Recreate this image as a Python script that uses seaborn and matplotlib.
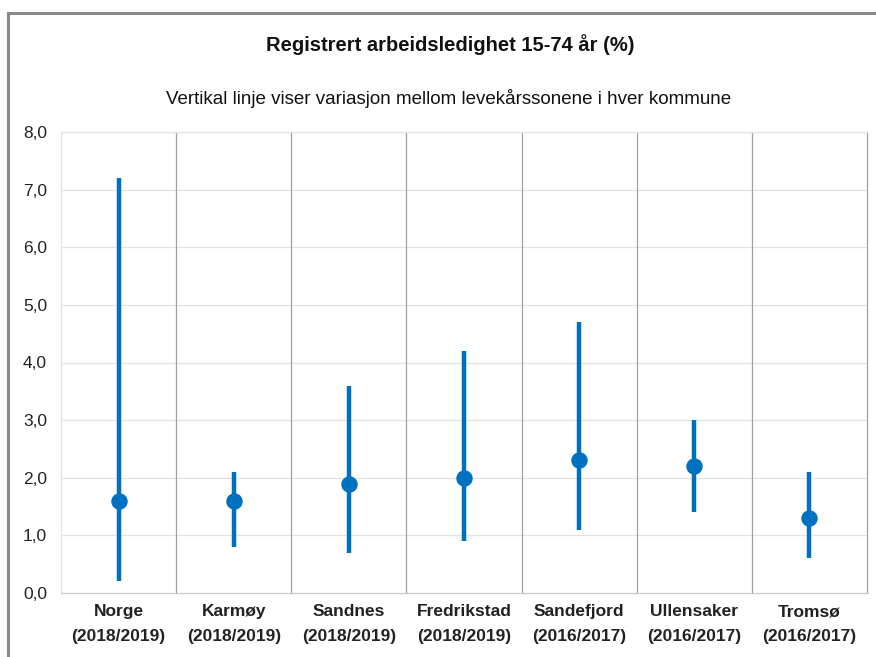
import matplotlib
matplotlib.use("Agg")
import matplotlib.pyplot as plt
import seaborn as sns
import pandas as pd
import numpy as np
from matplotlib.patches import Rectangle

categories = ["Norge\n(2018/2019)", "Karmøy\n(2018/2019)", "Sandnes\n(2018/2019)",
              "Fredrikstad\n(2018/2019)", "Sandefjord\n(2016/2017)",
              "Ullensaker\n(2016/2017)", "Tromsø\n(2016/2017)"]
low = [0.2, 0.8, 0.7, 0.9, 1.1, 1.4, 0.6]
high = [7.2, 2.1, 3.6, 4.2, 4.7, 3.0, 2.1]
value = [1.6, 1.6, 1.9, 2.0, 2.3, 2.2, 1.3]
yticks = [0, 1, 2, 3, 4, 5, 6, 7, 8]

sns.set_theme(style="white")
plt.rcParams['font.family'] = ['Liberation Sans', 'DejaVu Sans']

df = pd.DataFrame({"kat": categories, "low": low, "high": high, "verdi": value})
color = "#0070C0"

fig = plt.figure(figsize=(8.76, 6.57), dpi=100)
ax = fig.add_axes([61/876, 1-593/657, (867-61)/876, (593-132)/657])

x = np.arange(len(categories))
ax.vlines(x, df["low"], df["high"], color=color, linewidth=3.2, zorder=3)
sns.scatterplot(data=df, x=x, y="verdi", color=color, s=140, edgecolor=color,
                linewidth=0, zorder=4, ax=ax, legend=False)

ax.set_xlim(-0.5, len(categories) - 0.5)
ax.set_ylim(0, 8)
ax.set_yticks(yticks)
ax.set_yticklabels([f"{v:.1f}".replace(".", ",") for v in yticks], fontsize=12.5, color="#222222")
ax.set_xticks(x)
ax.set_xticklabels(categories, fontsize=12.5, fontweight="bold", color="#222222")
ax.tick_params(axis="x", pad=8, length=0)
ax.tick_params(axis="y", pad=10, length=0)
for t in ax.get_xticklabels():
    t.set_linespacing(1.8)
ax.set_xlabel("")
ax.set_ylabel("")

# horizontal grid
for v in yticks[1:]:
    ax.axhline(v, color="#e3e3e3", linewidth=0.9, zorder=1)
# vertical separators
for b in np.arange(0.5, len(categories) - 0.5, 1):
    ax.axvline(b, color="#a0a0a0", linewidth=0.9, zorder=1)

for s in ["top", "right", "left"]:
    ax.spines[s].set_visible(True)
    ax.spines[s].set_color("#a0a0a0")
    ax.spines[s].set_linewidth(0.9)
ax.spines["top"].set_color("#e3e3e3")
ax.spines["left"].set_color("#e3e3e3")
ax.spines["bottom"].set_color("#c8c8c8")
ax.spines["bottom"].set_linewidth(0.9)

fig.text(450/876, 1-45/657, "Registrert arbeidsledighet 15-74 år (%)", ha="center", va="center",
         fontsize=14.5, fontweight="bold", color="#111111")
fig.text(449/876, 1-98/657, "Vertikal linje viser variasjon mellom levekårssonene i hver kommune",
         ha="center", va="center", fontsize=13.5, color="#111111")

fig.patches.append(Rectangle((8/876, -0.05), 1.2, 1-13/657 + 0.05, transform=fig.transFigure,
                             fill=False, edgecolor="#8a8a8a", linewidth=2.2))

fig.savefig("out.png", dpi=100)
